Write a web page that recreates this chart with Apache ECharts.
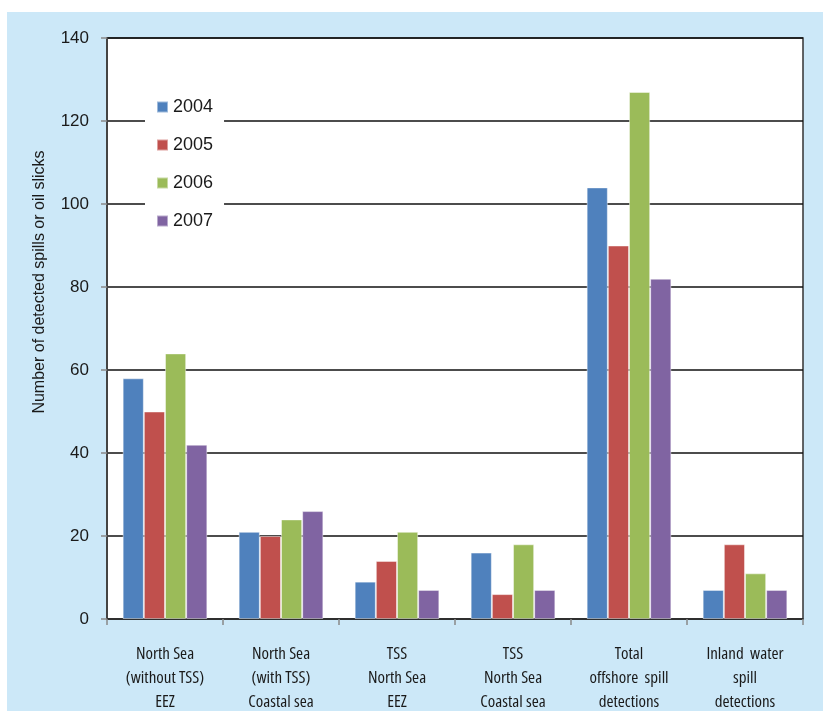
<!DOCTYPE html>
<html>
<head>
<meta charset="utf-8">
<style>
  html, body { margin: 0; padding: 0; background: #fff; }
  #chart { width: 823px; height: 711px; }
</style>
<script src="https://cdn.jsdelivr.net/npm/echarts@6/dist/echarts.min.js"></script>
</head>
<body>
<div id="chart"></div>
<script>
// Detected oil spills / slicks per area, 2004-2007
const categories = [
  'North Sea\n(without TSS)\nEEZ',
  'North Sea\n(with TSS)\nCoastal sea',
  'TSS\nNorth Sea\nEEZ',
  'TSS\nNorth Sea\nCoastal sea',
  'Total\noffshore  spill\ndetections',
  'Inland  water\nspill\ndetections'
];
const years = ['2004', '2005', '2006', '2007'];
const values2004 = [58, 21, 9, 16, 104, 7];
const values2005 = [50, 20, 14, 6, 90, 18];
const values2006 = [64, 24, 21, 18, 127, 11];
const values2007 = [42, 26, 7, 7, 82, 7];
const yTicks = { min: 0, max: 140, interval: 20 };

const seriesValues = [values2004, values2005, values2006, values2007];
const colors = ['#4F81BD', '#C0504D', '#9BBB59', '#8064A2'];
const FONT = '"Liberation Sans", Arial, sans-serif';
const NARROW = '"Open Sans", "Liberation Sans", sans-serif';

const chart = echarts.init(document.getElementById('chart'), null, { renderer: 'canvas' });

chart.setOption({
  backgroundColor: '#ffffff',
  animation: false,
  color: colors,
  graphic: [
    {
      type: 'rect',
      z: -10,
      silent: true,
      shape: { x: 7, y: 12, width: 816, height: 699 },
      style: { fill: '#CCE8F8' }
    },
    {
      type: 'text',
      x: 40,
      y: 282,
      rotation: Math.PI / 2,
      style: {
        text: 'Number of detected spills or oil slicks',
        font: '16px ' + FONT,
        fill: '#1a1a1a',
        align: 'center',
        verticalAlign: 'middle'
      }
    }
  ],
  grid: {
    left: 107, top: 38, right: 20, bottom: 92,
    outerBoundsMode: 'none',
    containLabel: false,
    show: true,
    backgroundColor: '#ffffff',
    borderColor: '#333',
    borderWidth: 1.5
  },
  legend: {
    orient: 'vertical',
    left: 145,
    top: 89,
    data: years,
    backgroundColor: '#ffffff',
    padding: [8, 11, 8, 11],
    itemWidth: 11,
    itemHeight: 11,
    itemGap: 18,
    icon: 'rect',
    textStyle: { fontSize: 18, lineHeight: 20, color: '#1a1a1a', fontFamily: FONT },
    z: 5
  },
  xAxis: {
    type: 'category',
    data: categories,
    axisLine: { show: true, lineStyle: { color: '#333', width: 1.5 } },
    axisTick: { show: true, length: 6, lineStyle: { color: '#888', width: 1.5 } },
    axisLabel: {
      margin: 23,
      fontSize: 17,
      lineHeight: 24,
      color: '#1a1a1a',
      fontStyle: 'condensed',
      fontFamily: NARROW,
      interval: 0
    },
    splitLine: { show: false }
  },
  yAxis: {
    type: 'value',
    min: yTicks.min,
    max: yTicks.max,
    interval: yTicks.interval,
    axisLine: { show: true, lineStyle: { color: '#444', width: 2 } },
    axisTick: { show: true, length: 6, lineStyle: { color: '#888', width: 1.5 } },
    axisLabel: { margin: 18, fontSize: 17, color: '#1a1a1a', fontFamily: FONT },
    splitLine: { show: true, lineStyle: { color: '#111', width: 1.6 } }
  },
  series: years.map((y, i) => ({
    name: y,
    type: 'bar',
    data: seriesValues[i],
    barGap: '0%',
    barCategoryGap: '27%',
    itemStyle: { color: colors[i], borderColor: 'rgba(255,255,255,0.45)', borderWidth: 1 }
  }))
});
</script>
</body>
</html>
